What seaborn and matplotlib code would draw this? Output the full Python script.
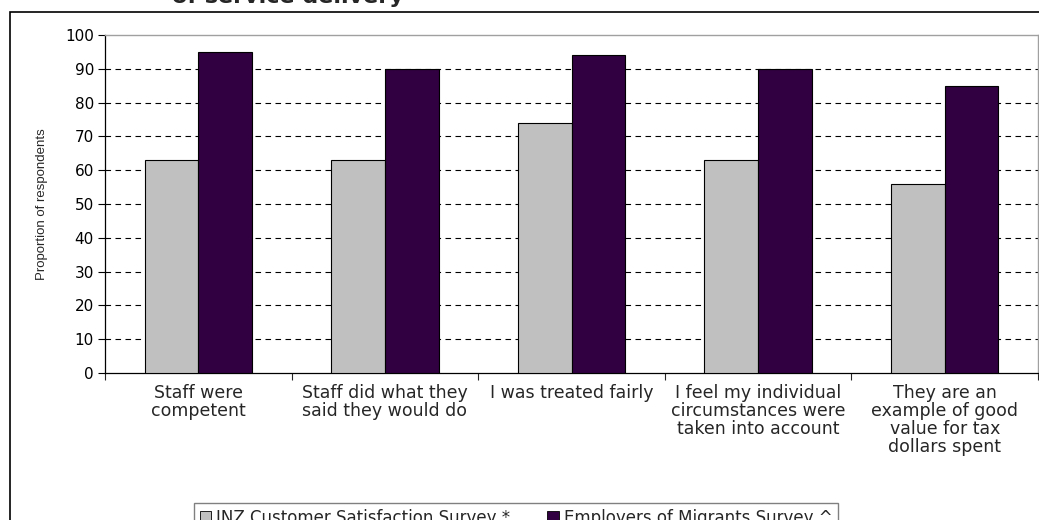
import matplotlib
matplotlib.use("Agg")
import matplotlib.pyplot as plt
import matplotlib.patches as mpatches
from matplotlib.ticker import FixedLocator
import pandas as pd
import seaborn as sns

# ~~~~~~~~~~~~~~~~~~~~~~~~~~~~~~~~~~~~~~~~~~~~~~~~~~~~~~~~~~~~~~~~~~~~~~
# DATA
# ~~~~~~~~~~~~~~~~~~~~~~~~~~~~~~~~~~~~~~~~~~~~~~~~~~~~~~~~~~~~~~~~~~~~~~
categories = [
    "Staff were\ncompetent",
    "Staff did what they\nsaid they would do",
    "I was treated fairly",
    "I feel my individual\ncircumstances were\ntaken into account",
    "They are an\nexample of good\nvalue for tax\ndollars spent",
]
series_names = ["INZ Customer Satisfaction Survey *", "Employers of Migrants Survey ^"]
inz_values = [63, 63, 74, 63, 56]
employers_values = [95, 90, 94, 90, 85]
y_ticks = list(range(0, 101, 10))

df = pd.DataFrame({
    "category": categories * 2,
    "survey": [series_names[0]] * len(categories) + [series_names[1]] * len(categories),
    "value": inz_values + employers_values,
})

palette = {series_names[0]: "#C0C0C0", series_names[1]: "#300040"}

# ~~~~~~~~~~~~~~~~~~~~~~~~~~~~~~~~~~~~~~~~~~~~~~~~~~~~~~~~~~~~~~~~~~~~~~
# PLOT
# ~~~~~~~~~~~~~~~~~~~~~~~~~~~~~~~~~~~~~~~~~~~~~~~~~~~~~~~~~~~~~~~~~~~~~~
sns.set_style("white")
plt.rcParams["font.family"] = ["DejaVu Sans"]

fig = plt.figure(figsize=(10.39, 5.2), dpi=100)
ax = fig.add_axes([105 / 1039, 1 - 373 / 520, 933 / 1039, 338 / 520])

sns.barplot(
    data=df, x="category", y="value", hue="survey", palette=palette,
    width=0.575, gap=0, edgecolor="black", linewidth=0.8, saturation=1,
    legend=False, ax=ax, zorder=3,
)

ax.set_xlim(-0.5, len(categories) - 0.5)
ax.set_ylim(0, 100)
ax.set_yticks(y_ticks)
ax.tick_params(axis="y", labelsize=11, length=5, width=0.8, direction="out",
               left=True, pad=3, colors="black")
ax.tick_params(axis="x", which="major", length=0, pad=8)
ax.xaxis.set_minor_locator(FixedLocator([i - 0.5 for i in range(len(categories) + 1)]))
ax.tick_params(axis="x", which="minor", length=5, width=0.8, direction="out", bottom=True)
ax.set_xticks(range(len(categories)))
ax.set_xticklabels(categories, fontsize=12.5, linespacing=1.0)

ax.yaxis.grid(True, linestyle=(0, (5, 4)), color="black", linewidth=0.8, zorder=1)
ax.get_ygridlines()[-1].set_visible(False)
ax.get_ygridlines()[0].set_visible(False)

ax.set_xlabel("")
ax.set_ylabel("Proportion of respondents", fontsize=9.5, family=["Liberation Sans"], labelpad=12)

for side in ["left", "bottom"]:
    ax.spines[side].set_color("black")
    ax.spines[side].set_linewidth(0.9)
for side in ["top", "right"]:
    ax.spines[side].set_visible(True)
    ax.spines[side].set_color("#A0A0A0")
    ax.spines[side].set_linewidth(1.0)

# outer chart-area border
fig.patches.append(mpatches.Rectangle(
    (10 / 1039, -0.1), 1.2, 1 - 12 / 520 + 0.1, transform=fig.transFigure,
    fill=False, edgecolor="black", linewidth=1.2))

# title, clipped by the top edge as in the source
fig.text(172 / 1039, 1 - 3 / 520, "of service delivery", fontsize=16,
         fontweight="bold", ha="left", va="baseline")

handles = [mpatches.Patch(facecolor=palette[n], edgecolor="black", linewidth=0.6, label=n)
           for n in series_names]
fig.legend(handles=handles, loc="upper center", bbox_to_anchor=(516 / 1039, 1 - 495 / 520),
           ncol=2, frameon=True, fancybox=False, edgecolor="#606060", fontsize=12,
           handlelength=0.7, handleheight=0.7, handletextpad=0.3, columnspacing=2.2,
           borderpad=0.35)

fig.savefig("out.png", dpi=100)
